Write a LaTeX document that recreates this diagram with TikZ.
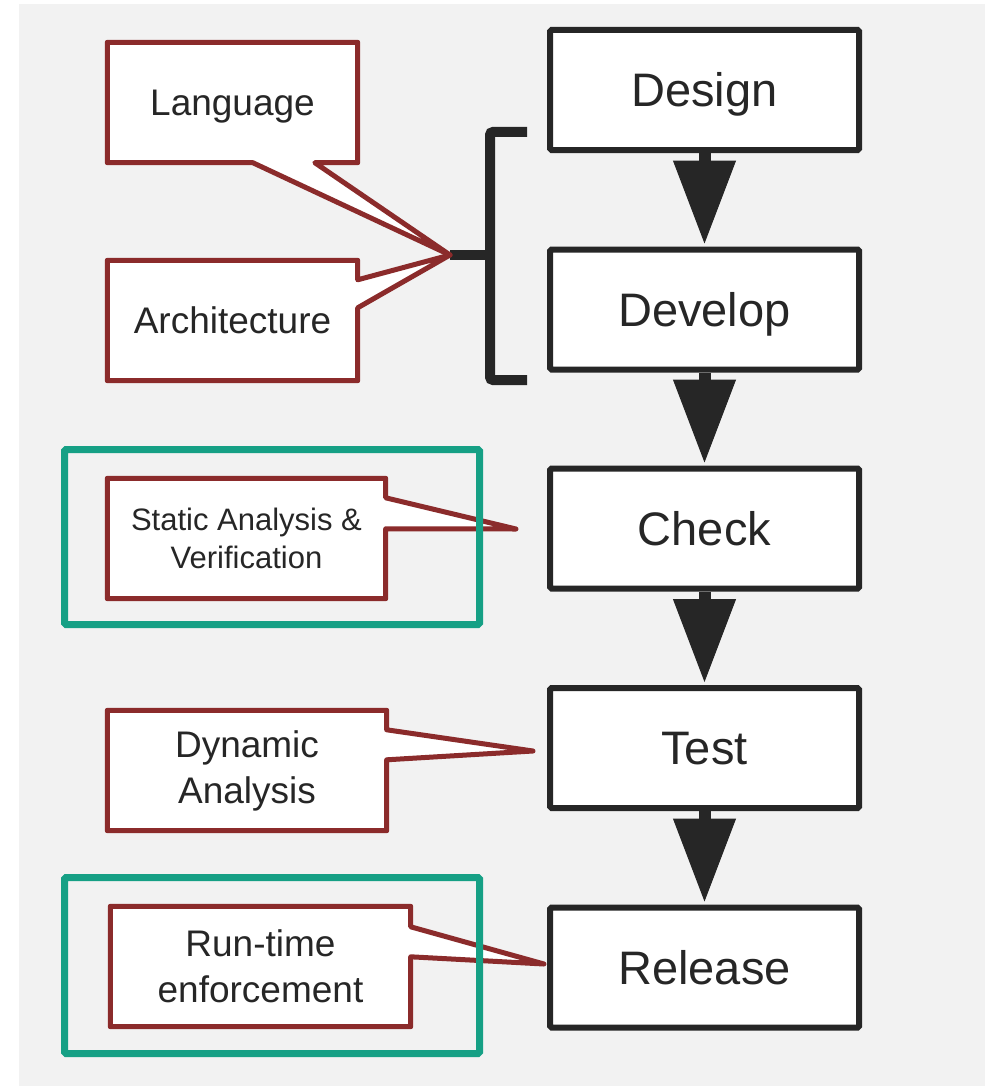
\documentclass[tikz,border=0pt]{standalone}
\usepackage{fontspec}
\setmainfont{Liberation Sans}
\usetikzlibrary{arrows.meta,calc}
\definecolor{ink}{HTML}{262626}
\definecolor{callred}{HTML}{8B2B2B}
\definecolor{framegreen}{HTML}{16A085}
\definecolor{panel}{HTML}{F2F2F2}
\pgfdeclarelayer{bg}
\pgfsetlayers{bg,main}

\begin{document}
\begin{tikzpicture}[x=1pt,y=-1pt,
  stage/.style={draw=ink, fill=white, line width=6pt, rounded corners=1.5pt,
    minimum width=309pt, minimum height=120pt, inner sep=0pt, text=ink,
    font=\fontsize{47}{56}\selectfont, text height=33.7pt, text depth=0pt},
  note/.style={minimum height=120pt, inner sep=0pt, text=ink, align=center,
    font=\fontsize{37}{46}\selectfont},
  oneline/.style={text height=26.5pt, text depth=0pt},
  callout/.style={draw=callred, fill=white, line width=5pt, line join=round},
  flow/.style={draw=ink, line width=12pt,
    -{Triangle[width=63pt,length=83pt,line width=1pt]}},
  group/.style={draw=framegreen, line width=7pt, rounded corners=1.5pt},
  brace/.style={draw=ink, line width=10pt, rounded corners=3pt}]

\useasboundingbox (0,0) rectangle (994,1089);
\begin{pgfonlayer}{bg}
  \fill[panel] (19,4) rectangle (985,1086);
\end{pgfonlayer}

% process stages
\node[stage] (design)  at (704.5,90)    {Design};
\node[stage] (develop) at (704.5,309.5) {Develop};
\node[stage] (check)   at (704.5,528.5) {Check};
\node[stage] (test)    at (704.5,748)   {Test};
\node[stage] (release) at (704.5,967.5) {Release};

\draw[flow, shorten >=3pt] (design.south)  -- (develop.north);
\draw[flow, shorten >=3pt] (develop.south) -- (check.north);
\draw[flow, shorten >=3pt] (check.south)   -- (test.north);
\draw[flow, shorten >=3pt] (test.south)    -- (release.north);

% techniques attached to the stages
\node[note, oneline, minimum width=250pt] (lang) at (232.5,102.5) {Language};
\node[note, oneline, minimum width=250pt] (arch) at (232.5,320.5) {Architecture};
\node[note, minimum width=278pt, font=\fontsize{31}{38}\selectfont]
      (static) at (246.5,538.5) {Static Analysis \&\\Verification};
\node[note, minimum width=279pt] (dyn) at (247,770.5)   {Dynamic\\Analysis};
\node[note, minimum width=300pt] (rt)  at (260.5,966.5) {Run-time\\enforcement};

\coordinate (bTip) at (450,255);
\coordinate (sTip) at ($(check.west)+(-31,0.5)$);
\coordinate (dTip) at ($(test.west)+(-14,3)$);
\coordinate (rTip) at ($(release.west)+(-3,-3.5)$);

\begin{pgfonlayer}{bg}
  % bracket grouping Design and Develop
  \draw[brace] (527,132) -- (490,132) -- (490,380) -- (527,380);
  \draw[draw=ink, line width=10pt] (490,255) -- (bTip);

  % speech-bubble outlines
  \draw[callout] (lang.north west) -- (lang.north east) -- (lang.south east)
    -- ($(lang.south west)+(207.5,0)$) -- (bTip)
    -- ($(lang.south west)+(145.5,0)$) -- (lang.south west) -- cycle;
  \draw[callout] (arch.north west) -- (arch.north east)
    -- ($(arch.north east)+(0,19.5)$) -- (bTip)
    -- ($(arch.north east)+(0,47.5)$) -- (arch.south east)
    -- (arch.south west) -- cycle;
  \draw[callout] (static.north west) -- (static.north east)
    -- ($(static.north east)+(0,19.5)$) -- (sTip)
    -- ($(static.north east)+(0,50.5)$) -- (static.south east)
    -- (static.south west) -- cycle;
  \draw[callout] (dyn.north west) -- (dyn.north east)
    -- ($(dyn.north east)+(0,19.5)$) -- (dTip)
    -- ($(dyn.north east)+(0,49.5)$) -- (dyn.south east)
    -- (dyn.south west) -- cycle;
  \draw[callout] (rt.north west) -- (rt.north east)
    -- ($(rt.north east)+(0,20.5)$) -- (rTip)
    -- ($(rt.north east)+(0,50.5)$) -- (rt.south east)
    -- (rt.south west) -- cycle;
\end{pgfonlayer}

% green frames around the highlighted techniques
\draw[group] (64.5,449.5) rectangle (479.5,624.5);
\draw[group] (64.5,877.5) rectangle (479.5,1053.5);
\end{tikzpicture}
\end{document}
